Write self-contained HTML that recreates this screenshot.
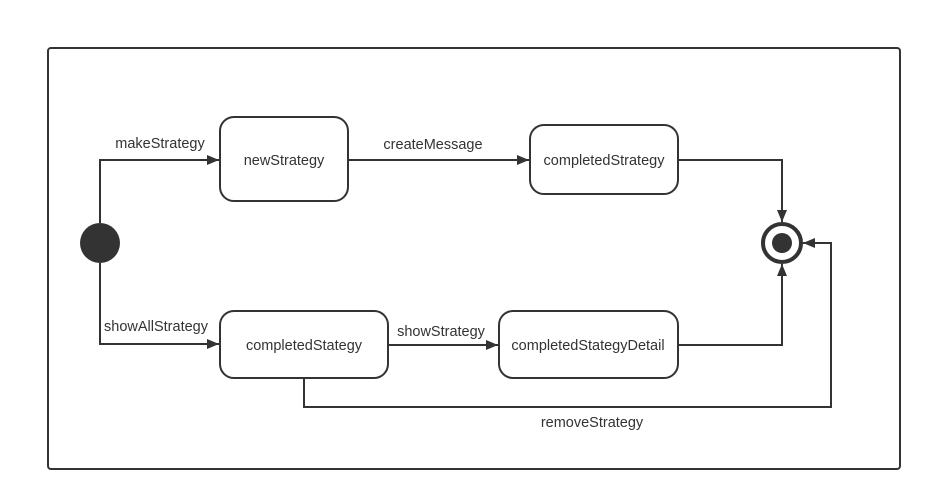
<!DOCTYPE html>
<html><head><meta charset="utf-8"><style>
html,body{margin:0;padding:0;background:#fff;width:932px;height:502px;overflow:hidden}
text{font-family:"Liberation Sans","Noto Sans CJK SC",sans-serif;font-size:14.5px;fill:#333}
</style></head><body>
<svg width="932" height="502" viewBox="0 0 932 502" xmlns="http://www.w3.org/2000/svg">
<defs>
<marker id="a" markerWidth="12" markerHeight="10" refX="12" refY="5" orient="auto" markerUnits="userSpaceOnUse">
<path d="M0,0 L12,5 L0,10 z" fill="#333"/></marker>
</defs>
<rect x="48" y="48" width="852" height="421" rx="3" fill="none" stroke="#333" stroke-width="2"/>
<g fill="none" stroke="#333" stroke-width="2">
<path d="M100,223 V160 H219" marker-end="url(#a)"/>
<path d="M100,263 V344 H219" marker-end="url(#a)"/>
<path d="M348,160 H529" marker-end="url(#a)"/>
<path d="M678,160 H782 V222" marker-end="url(#a)"/>
<path d="M678,345 H782 V264" marker-end="url(#a)"/>
<path d="M388,345 H498" marker-end="url(#a)"/>
<path d="M304,378 V407 H831 V243 H803" marker-end="url(#a)"/>
<rect x="220" y="117" width="128" height="84" rx="14" fill="#fff"/>
<rect x="530" y="125" width="148" height="69" rx="14" fill="#fff"/>
<rect x="220" y="311" width="168" height="67" rx="14" fill="#fff"/>
<rect x="499" y="311" width="179" height="67" rx="14" fill="#fff"/>
<circle cx="782" cy="243" r="19" stroke-width="4" fill="#fff"/>
</g>
<circle cx="100" cy="243" r="20" fill="#333"/>
<circle cx="782" cy="243" r="10" fill="#333"/>
<text x="284" y="165" text-anchor="middle">newStrategy</text>
<text x="604" y="165" text-anchor="middle">completedStrategy</text>
<text x="304" y="350" text-anchor="middle">completedStategy</text>
<text x="588" y="350" text-anchor="middle">completedStategyDetail</text>
<text x="160" y="148" text-anchor="middle">makeStrategy</text>
<text x="433" y="149" text-anchor="middle">createMessage</text>
<text x="156" y="331" text-anchor="middle">showAllStrategy</text>
<text x="441" y="336" text-anchor="middle">showStrategy</text>
<text x="592" y="427" text-anchor="middle">removeStrategy</text>
</svg>
</body></html>
